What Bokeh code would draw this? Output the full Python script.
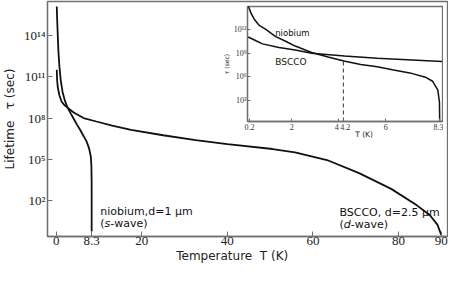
from bokeh.plotting import figure
from bokeh.models import FixedTicker, Label
from bokeh.layouts import column
from bokeh.embed import file_html
from bokeh.resources import INLINE

# ---------------- main chart data ----------------
nb_T = [0.15, 0.22, 0.37, 0.52, 0.75, 1.05, 1.5, 2.0, 2.6, 3.4, 4.1, 4.9, 5.6,
        6.4, 7.1, 7.7, 8.1, 8.24, 8.29, 8.3, 8.3]
nb_tau = [1.26e16, 2.0e15, 1.26e14, 7.9e12, 6.3e11, 6.3e10, 7.9e9, 2.0e9, 6.3e8,
          2.2e8, 8.9e7, 3.2e7, 1.4e7, 5.0e6, 2.0e6, 6.3e5, 1.6e5, 3.2e4, 3.2e3,
          4.0e2, 0.56]

bs_T = [0.15, 0.22, 0.37, 0.75, 1.27, 1.9, 2.6, 4.1, 6.4, 9.4, 13.1, 17.5, 25.0,
        32.6, 40.0, 50.6, 55.8, 63.3, 70.8, 78.3, 84.3, 87.3, 89.1, 90.0]
bs_tau = [3.2e11, 6.3e10, 1.8e10, 4.5e9, 1.6e9, 8.9e8, 6.0e8, 2.5e8, 1.0e8, 5.6e7,
          2.8e7, 1.4e7, 5.6e6, 2.5e6, 1.26e6, 5.6e5, 3.2e5, 8.9e4, 1.0e4, 7.1e2,
          45.0, 8.9, 1.8, 0.32]

x_ticks = [0, 8.3, 20, 40, 60, 80, 90]
x_tick_labels = ["0", "8.3", "20", "40", "60", "80", "90"]
y_ticks = [1e2, 1e5, 1e8, 1e11, 1e14]
y_tick_labels = ["10²", "10⁵", "10⁸", "10¹¹", "10¹⁴"]

# ---------------- inset data ----------------
in_nb_T = [0.15, 0.27, 0.41, 0.62, 0.9, 1.32, 1.74, 2.15, 2.85, 3.55, 4.22, 4.94,
           5.64, 6.34, 7.03, 7.73, 8.0, 8.22, 8.29, 8.3]
in_nb_tau = [1.0e15, 1.15e14, 1.9e13, 3.2e12, 1.0e12, 1.26e11, 3.2e10, 7.9e9,
             1.2e9, 3.2e8, 1.0e8, 3.8e7, 1.9e7, 7.6e6, 3.2e6, 8.3e5, 2.8e5,
             2.3e4, 6.5e2, 2.0]
in_bs_T = [0.15, 0.48, 0.76, 1.46, 2.15, 2.85, 4.25, 5.64, 8.4]
in_bs_tau = [1.1e11, 3.7e10, 1.5e10, 5.1e9, 2.5e9, 1.0e9, 4.3e8, 2.3e8, 9.0e7]

in_x_ticks = [0.2, 2, 4, 4.2, 6, 8.3]
in_x_tick_labels = ["0.2", "2", "4\u2002", "\u20024.2", "6", "8.3"]
in_y_ticks = [1e3, 1e6, 1e9, 1e12]
in_y_tick_labels = ["10³", "10⁶", "10⁹", "10¹²"]

marker_T = 4.2
marker_tau = 1.0e8

# ---------------- styling ----------------
SERIF = "Liberation Serif, Times New Roman, serif"
SANS = "DejaVu Sans"
GRAY = "#707070"
INK = "#111111"

main_x = (-2.02, 91.46)
main_y = (10 ** -0.61, 10 ** 16.47)

p = figure(width=448, height=265, x_range=main_x, y_range=main_y,
           y_axis_type="log", output_backend="svg", toolbar_location=None,
           min_border_left=36, min_border_right=1, min_border_top=1,
           min_border_bottom=28, frame_align=False)
p.grid.visible = False
p.outline_line_color = GRAY
p.outline_line_width = 1.3
p.background_fill_color = "white"

p.line(nb_T, nb_tau, line_color=INK, line_width=1.8)
p.line(bs_T, bs_tau, line_color=INK, line_width=1.8)

for ax in (p.xaxis[0], p.yaxis[0]):
    ax.axis_line_color = GRAY
    ax.axis_line_width = 1.3
    ax.major_tick_line_color = GRAY
    ax.major_tick_in = 5
    ax.major_tick_out = 0
    ax.minor_tick_in = 0
    ax.minor_tick_out = 0
    ax.major_label_text_font = SERIF
    ax.major_label_text_font_size = "13px"
    ax.major_label_text_color = "#222222"
    ax.axis_label_text_font = SANS
    ax.axis_label_text_font_size = "12px"
    ax.axis_label_text_font_style = "normal"
    ax.axis_label_text_color = "#222222"

p.xaxis[0].ticker = FixedTicker(ticks=x_ticks)
p.xaxis[0].major_label_overrides = dict(zip(x_ticks, x_tick_labels))
p.xaxis[0].axis_label = "Temperature\u00a0\u00a0T (K)" + "\u00a0" * 8
p.xaxis[0].major_label_standoff = 0
p.xaxis[0].axis_label_standoff = 1

p.yaxis[0].ticker = FixedTicker(ticks=y_ticks)
p.yaxis[0].major_label_overrides = dict(zip(y_ticks, y_tick_labels))
p.yaxis[0].axis_label = "Lifetime\u00a0\u00a0\u00a0τ (sec)"
p.yaxis[0].major_label_standoff = 2
p.yaxis[0].axis_label_standoff = 4

def label(fig, x, y, text, size, style="normal", x_offset=0, font=SANS):
    fig.add_layout(Label(x=x, y=y, text=text, text_font=font,
                         text_font_size=size, text_font_style=style,
                         text_color="#111111", text_baseline="alphabetic",
                         x_offset=x_offset))

# annotations (main)
label(p, 10.3, 10 ** 1.2, "niobium,d=1 μm", "11px")
label(p, 10.3, 10 ** 0.3, "(", "11px")
label(p, 10.3, 10 ** 0.3, "s", "11px", "italic", 4.3)
label(p, 10.3, 10 ** 0.3, "-wave)", "11px", "normal", 10.0)

label(p, 66.2, 10 ** 1.15, "BSCCO, d=2.5 μm", "11px")
label(p, 66.2, 10 ** 0.25, "(", "11px")
label(p, 66.2, 10 ** 0.25, "d", "11px", "italic", 4.3)
label(p, 66.2, 10 ** 0.25, "-wave)", "11px", "normal", 11.3)

# ---------------- inset ----------------
in_x = (0.12, 8.42)
in_y = (10 ** 0.36, 10 ** 14.9)

ins = figure(width=226, height=137, x_range=in_x, y_range=in_y,
             y_axis_type="log", output_backend="svg", toolbar_location=None,
             min_border_left=30, min_border_right=1, min_border_top=2,
             min_border_bottom=14, frame_align=False,
             margin=(-261, 0, 0, 217))
ins.grid.visible = False
ins.border_fill_color = None
ins.background_fill_color = "white"
ins.outline_line_color = GRAY
ins.outline_line_width = 1.3

ins.line(in_nb_T, in_nb_tau, line_color=INK, line_width=1.5)
ins.line(in_bs_T, in_bs_tau, line_color=INK, line_width=1.5)
ins.segment(x0=[marker_T], y0=[in_y[0]], x1=[marker_T], y1=[marker_tau],
            line_color="#333333", line_width=1, line_dash="4 3")

for ax in (ins.xaxis[0], ins.yaxis[0]):
    ax.axis_line_color = GRAY
    ax.axis_line_width = 1.3
    ax.major_tick_line_color = GRAY
    ax.major_tick_in = 3
    ax.major_tick_out = 0
    ax.minor_tick_in = 0
    ax.minor_tick_out = 0
    ax.major_label_text_font = SERIF
    ax.major_label_text_font_size = "8px"
    ax.major_label_text_color = "#333333"
    ax.major_label_standoff = 1
    ax.axis_label_text_font = SANS
    ax.axis_label_text_font_style = "normal"
    ax.axis_label_text_color = "#222222"

ins.xaxis[0].ticker = FixedTicker(ticks=in_x_ticks)
ins.xaxis[0].major_label_overrides = dict(zip(in_x_ticks, in_x_tick_labels))
ins.xaxis[0].axis_label = "\u00a0" * 16 + "T (K)"
ins.xaxis[0].axis_label_text_font_size = "7.5px"
ins.xaxis[0].axis_label_standoff = -5

ins.yaxis[0].ticker = FixedTicker(ticks=in_y_ticks)
ins.yaxis[0].major_label_overrides = dict(zip(in_y_ticks, in_y_tick_labels))
ins.yaxis[0].axis_label = "τ (sec)"
ins.yaxis[0].axis_label_text_font_size = "6px"
ins.yaxis[0].axis_label_standoff = 1

label(ins, 1.3, 10 ** 11.5, "niobium", "8.5px")
label(ins, 1.3, 10 ** 7.9, "BSCCO", "9px")

layout = column(p, ins)
open("out.html", "w").write(file_html(layout, INLINE))
